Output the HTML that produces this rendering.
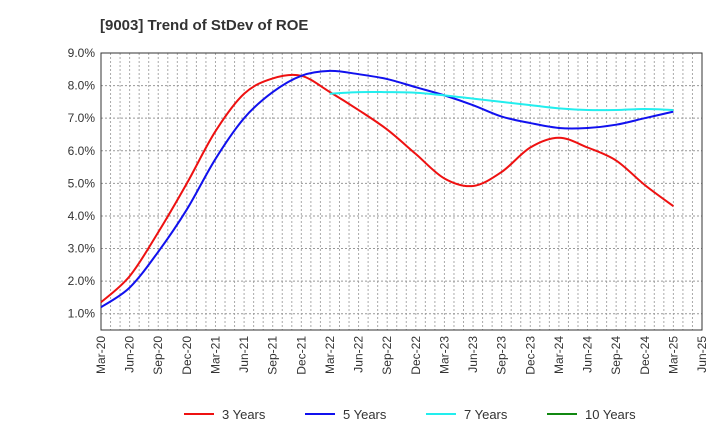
<!DOCTYPE html>
<html><head><meta charset="utf-8"><style>
body{margin:0;background:#fff;font-family:"Liberation Sans",sans-serif}
</style></head><body>
<svg id="c" width="720" height="440" xmlns="http://www.w3.org/2000/svg" font-family="Liberation Sans, sans-serif">
<text x="100" y="30" font-size="15" font-weight="bold" fill="#333">[9003]  Trend of StDev of ROE</text>
<g id="grid"></g><g id="axes"></g><g id="series"></g>
<g id="legend"></g>
</svg>
<script>
const xLabels=["Mar-20","Jun-20","Sep-20","Dec-20","Mar-21","Jun-21","Sep-21","Dec-21","Mar-22","Jun-22","Sep-22","Dec-22","Mar-23","Jun-23","Sep-23","Dec-23","Mar-24","Jun-24","Sep-24","Dec-24","Mar-25","Jun-25"];
const yTicks=[1,2,3,4,5,6,7,8,9];
const s3=[1.35,2.15,3.5,5.0,6.6,7.75,8.22,8.3,7.8,7.25,6.65,5.9,5.15,4.92,5.35,6.1,6.4,6.1,5.7,4.95,4.3];
const s5=[1.2,1.8,2.9,4.2,5.75,7.0,7.8,8.3,8.45,8.35,8.2,7.95,7.7,7.4,7.05,6.85,6.7,6.7,6.8,7.0,7.2];
const s7=[null,null,null,null,null,null,null,null,7.75,7.8,7.8,7.78,7.7,7.6,7.5,7.4,7.3,7.25,7.25,7.28,7.25];
const s10=[];
const L=101,R=702,T=53,B=330,ymin=0.5,ymax=9;
const NS="http://www.w3.org/2000/svg";
const X=i=>L+i*(R-L)/21;
const Y=v=>B-(v-ymin)/(ymax-ymin)*(B-T);
function mk(t,a,p){const e=document.createElementNS(NS,t);for(const k in a)e.setAttribute(k,a[k]);p.appendChild(e);return e;}
const g=document.getElementById('grid'),ax=document.getElementById('axes'),sg=document.getElementById('series'),lg=document.getElementById('legend');
for(let m=1;m<63;m++){const x=L+m*(R-L)/63;const l=mk('line',{x1:x,x2:x,y1:T,y2:B,stroke:'#aaa','stroke-dasharray':'2,2','stroke-width':1},g);

}
yTicks.forEach(v=>{const y=Y(v);const l=mk('line',{x1:L,x2:R,y1:y,y2:y,stroke:'#999','stroke-dasharray':'2,2'},g);


const t=mk('text',{x:L-6,y:y+4,'text-anchor':'end','font-size':12,fill:'#333'},ax);t.textContent=v.toFixed(1)+'%';

});
const fr=mk('rect',{x:L,y:T,width:R-L,height:B-T,fill:'none',stroke:'#333'},ax);


xLabels.forEach((s,i)=>{const x=X(i);const t=mk('text',{transform:`translate(${x+4},${B+6}) rotate(-90)`,'text-anchor':'end','font-size':12,fill:'#333'},ax);t.textContent=s;

});
function path(arr){const p=[];arr.forEach((v,i)=>{if(v!=null)p.push([X(i),Y(v)]);});if(!p.length)return'';let d=`M${p[0][0]},${p[0][1]}`;
for(let i=0;i<p.length-1;i++){const p0=p[i-1]||p[i],p1=p[i],p2=p[i+1],p3=p[i+2]||p2;
d+=`C${p1[0]+(p2[0]-p0[0])/6},${p1[1]+(p2[1]-p0[1])/6} ${p2[0]-(p3[0]-p1[0])/6},${p2[1]-(p3[1]-p1[1])/6} ${p2[0]},${p2[1]}`;}return d;}
const series=[["3 Years",s3,"#ee1111","series-3-years"],["5 Years",s5,"#1111ee","series-5-years"],["7 Years",s7,"#22eeee","series-7-years"],["10 Years",s10,"#118811","series-10-years"]];
series.forEach(([n,a,c,nm])=>{const d=path(a);if(d){const p=mk('path',{d:d,fill:'none',stroke:c,'stroke-width':2},sg);

}});
const lx=[184,305,426,547];
series.forEach(([n,a,c,nm],i)=>{const l=mk('line',{x1:lx[i],x2:lx[i]+30,y1:414,y2:414,stroke:c,'stroke-width':2},lg);


const t=mk('text',{x:lx[i]+38,y:419,'font-size':13,fill:'#333'},lg);t.textContent=n;

});
</script>
</body></html>
